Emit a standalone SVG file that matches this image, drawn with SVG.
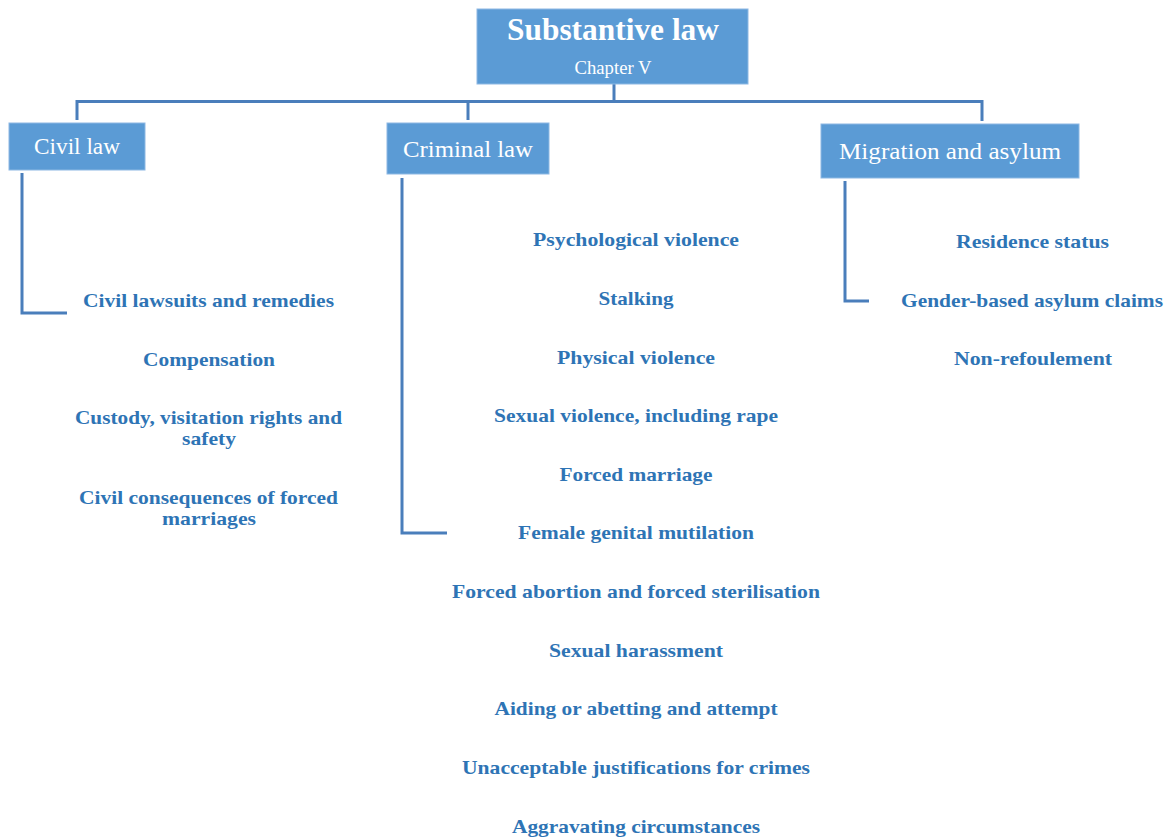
<svg xmlns="http://www.w3.org/2000/svg" width="1171" height="838" viewBox="0 0 1171 838">
  <style>
    .box { fill: #5b9bd5; stroke: #8db8e3; stroke-width: 1; }
    .head { font-family: "Liberation Serif", serif; fill: #ffffff; text-anchor: middle; }
    .item { font-family: "Liberation Serif", serif; font-weight: bold; font-size: 19px; fill: #2e74b5; text-anchor: middle; }
    .link { fill: none; stroke: #4a7ebb; stroke-width: 3; }
  </style>
  <rect width="1171" height="838" fill="#ffffff"/>

  <!-- connectors -->
  <g id="connectors">
    <path class="link" d="M614 84 V103" stroke-width="5"/>
    <path class="link" d="M77 120 V101.5 H982 V121"/>
    <path class="link" d="M468 101.5 V120"/>
    <path class="link" d="M22 173 V313 H67"/>
    <path class="link" d="M402 178 V533 H447"/>
    <path class="link" d="M845 181 V301 H869"/>
  </g>

  <!-- root -->
  <g id="substantive-law">
    <rect class="box" x="477" y="9" width="271" height="75"/>
    <text class="head" x="613" y="40" font-size="31" font-weight="bold" textLength="212" lengthAdjust="spacingAndGlyphs">Substantive law</text>
    <text class="head" x="613" y="74" font-size="18" textLength="77" lengthAdjust="spacingAndGlyphs">Chapter V</text>
  </g>

  <!-- civil law branch -->
  <g id="civil-law">
    <rect class="box" x="9" y="123" width="136" height="47"/>
    <text class="head" x="77" y="154" font-size="24" textLength="86" lengthAdjust="spacingAndGlyphs">Civil law</text>
  </g>
  <g id="civil-items">
    <text class="item" x="208.5" y="307" textLength="251" lengthAdjust="spacingAndGlyphs">Civil lawsuits and remedies</text>
    <text class="item" x="209" y="366" textLength="132" lengthAdjust="spacingAndGlyphs">Compensation</text>
    <text class="item" x="208.5" y="424" textLength="267" lengthAdjust="spacingAndGlyphs">Custody, visitation rights and</text>
    <text class="item" x="209" y="445" textLength="54" lengthAdjust="spacingAndGlyphs">safety</text>
    <text class="item" x="208.5" y="504" textLength="259" lengthAdjust="spacingAndGlyphs">Civil consequences of forced</text>
    <text class="item" x="209" y="525" textLength="94" lengthAdjust="spacingAndGlyphs">marriages</text>
  </g>

  <!-- criminal law branch -->
  <g id="criminal-law">
    <rect class="box" x="387" y="123" width="162" height="51"/>
    <text class="head" x="468" y="157" font-size="24" textLength="130" lengthAdjust="spacingAndGlyphs">Criminal law</text>
  </g>
  <g id="criminal-items">
    <text class="item" x="636" y="246" textLength="206" lengthAdjust="spacingAndGlyphs">Psychological violence</text>
    <text class="item" x="636" y="305" textLength="75" lengthAdjust="spacingAndGlyphs">Stalking</text>
    <text class="item" x="636" y="364" textLength="158" lengthAdjust="spacingAndGlyphs">Physical violence</text>
    <text class="item" x="636" y="422" textLength="284" lengthAdjust="spacingAndGlyphs">Sexual violence, including rape</text>
    <text class="item" x="636" y="481" textLength="153" lengthAdjust="spacingAndGlyphs">Forced marriage</text>
    <text class="item" x="636" y="539" textLength="236" lengthAdjust="spacingAndGlyphs">Female genital mutilation</text>
    <text class="item" x="636" y="598" textLength="368" lengthAdjust="spacingAndGlyphs">Forced abortion and forced sterilisation</text>
    <text class="item" x="636" y="657" textLength="174" lengthAdjust="spacingAndGlyphs">Sexual harassment</text>
    <text class="item" x="636" y="715" textLength="283" lengthAdjust="spacingAndGlyphs">Aiding or abetting and attempt</text>
    <text class="item" x="636" y="774" textLength="348" lengthAdjust="spacingAndGlyphs">Unacceptable justifications for crimes</text>
    <text class="item" x="636" y="833" textLength="248" lengthAdjust="spacingAndGlyphs">Aggravating circumstances</text>
  </g>

  <!-- migration and asylum branch -->
  <g id="migration-asylum">
    <rect class="box" x="821" y="124" width="258" height="54"/>
    <text class="head" x="950" y="159" font-size="24" textLength="222" lengthAdjust="spacingAndGlyphs">Migration and asylum</text>
  </g>
  <g id="migration-items">
    <text class="item" x="1032.5" y="248" textLength="153" lengthAdjust="spacingAndGlyphs">Residence status</text>
    <text class="item" x="1032" y="307" textLength="262" lengthAdjust="spacingAndGlyphs">Gender-based asylum claims</text>
    <text class="item" x="1033" y="365" textLength="158" lengthAdjust="spacingAndGlyphs">Non-refoulement</text>
  </g>
</svg>
